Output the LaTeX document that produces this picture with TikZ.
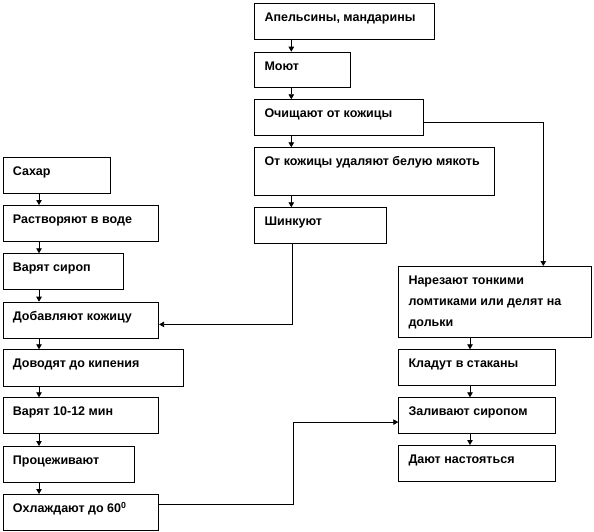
\documentclass[tikz,border=0pt]{standalone}
\usepackage{fontspec}
\setmainfont{Liberation Sans}
\usetikzlibrary{arrows.meta,calc}
\newcommand\flbox[6]{%
  \node[box, minimum width=#4pt, minimum height=#5pt] (#1) at (#2,#3) {};
  \node[lbl] (#1-t) at ([shift={(10pt,-18.5pt)}]#1.north west) {#6};}
\begin{document}
\begin{tikzpicture}[x=1pt,y=-1pt,
  box/.style={draw, line width=0.8pt, anchor=north west, inner sep=0pt},
  lbl/.style={anchor=base west, inner sep=0pt, font=\bfseries\fontsize{12.5}{21}\selectfont},
  arr/.style={-{Triangle[width=5.5pt,length=5pt]}, line width=0.8pt}]
\useasboundingbox (0,0) rectangle (594,532);
% right-top column
\flbox{A1}{254.3}{3.3}{180}{35.7}{Апельсины, мандарины}
\flbox{A2}{254.3}{51.7}{95.7}{35.6}{Моют}
\flbox{A3}{254.3}{99.3}{168.4}{35.7}{Очищают от кожицы}
\flbox{A4}{254.3}{147.3}{240}{47.7}{От кожицы удаляют белую мякоть}
\flbox{A5}{254.3}{207.3}{131.7}{36}{Шинкуют}
% left column
\flbox{L1}{2.7}{156.7}{107.3}{36.6}{Сахар}
\flbox{L2}{2.7}{205}{155.6}{35.7}{Растворяют в воде}
\flbox{L3}{2.7}{253.3}{120}{35.7}{Варят сироп}
\flbox{L4}{2.7}{301.7}{155.6}{36.6}{Добавляют кожицу}
\flbox{L5}{2.7}{349.3}{180}{36.4}{Доводят до кипения}
\flbox{L6}{2.7}{397.3}{155.6}{36}{Варят 10-12 мин}
\flbox{L7}{2.7}{446}{131.3}{35.7}{Процеживают}
\flbox{L8}{2.7}{494}{155.6}{36}{Охлаждают до 60\textsuperscript{0}}
% right-bottom column
\flbox{R1}{398.3}{266}{192.7}{71.3}{\begin{tabular}[t]{@{}l@{}}Нарезают тонкими\\ломтиками или делят на\\дольки\end{tabular}}
\flbox{R2}{398.3}{349.3}{156.7}{35.7}{Кладут в стаканы}
\flbox{R3}{398.3}{397.3}{156.7}{35.4}{Заливают сиропом}
\flbox{R4}{398.3}{445}{156.7}{36}{Дают настояться}
% vertical arrows
\foreach \a/\b in {A1/A2,A2/A3,A3/A4,A4/A5}
  \draw[arr] ([xshift=37pt]\a.south west) -- ([xshift=37pt]\b.north west);
\foreach \a/\b in {L1/L2,L2/L3,L3/L4,L4/L5,L5/L6,L6/L7,L7/L8}
  \draw[arr] ([xshift=36.3pt]\a.south west) -- ([xshift=36.3pt]\b.north west);
\foreach \a/\b in {R1/R2,R2/R3,R3/R4}
  \draw[arr] ([xshift=71.7pt]\a.south west) -- ([xshift=71.7pt]\b.north west);
% connectors
\draw[arr] ([yshift=-4.5pt]A3.east) -| ([xshift=145pt]R1.north west);
\draw[arr] ([xshift=38pt]A5.south west) |- ([yshift=-4pt]L4.east);
\draw[arr] ([yshift=8pt]L8.east) -- ++(134pt,0) |- ([yshift=-6.7pt]R3.west);
\end{tikzpicture}
\end{document}
